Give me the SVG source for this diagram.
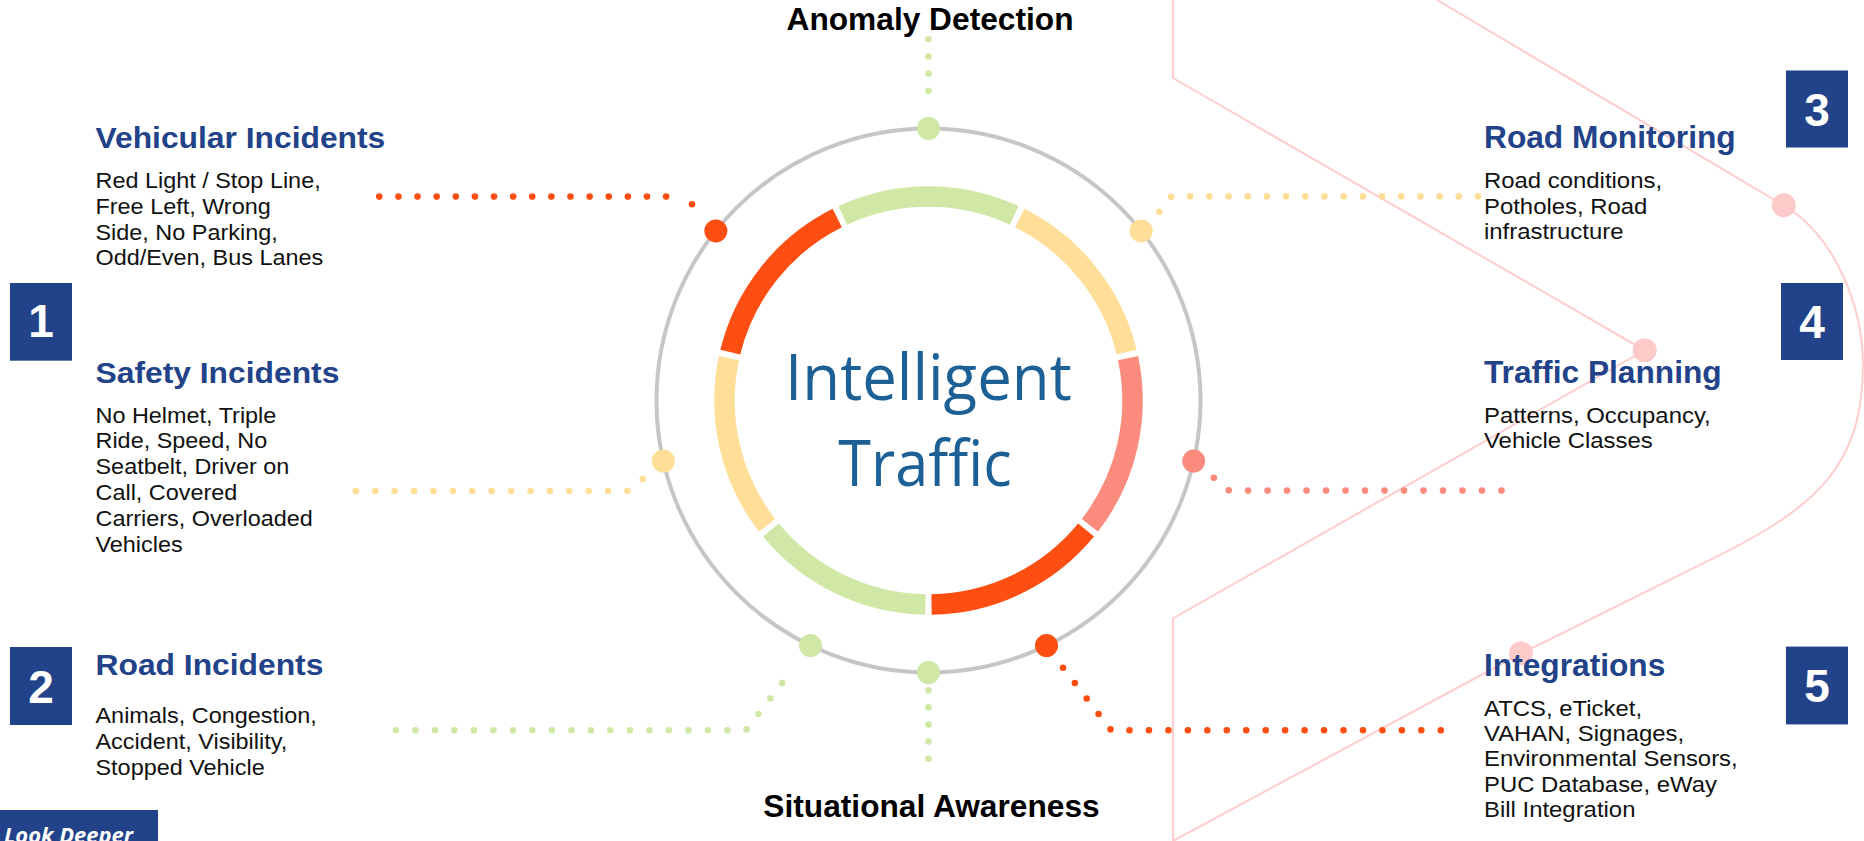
<svg xmlns="http://www.w3.org/2000/svg" width="1864" height="841" viewBox="0 0 1864 841">
<style>
.h{font-family:"Liberation Sans",Arial,sans-serif;font-weight:bold;fill:#22428A}
.b{font-family:"Liberation Sans",Arial,sans-serif;font-size:22.3px;fill:#111}
.t{font-family:"Liberation Sans",Arial,sans-serif;font-weight:bold;font-size:31.7px;fill:#000;text-anchor:middle}
.num{font-family:"Liberation Sans",Arial,sans-serif;font-weight:bold;font-size:46px;fill:#fff;text-anchor:middle}
.box{fill:#22428A}
.pink{fill:none;stroke:#FFCDCD;stroke-width:2}
.pdot{fill:#FDCACA}
.seg{fill:none;stroke-width:20.5}
.dl{fill:none;stroke-width:6.6;stroke-linecap:round}
.g{stroke:#D1E7A6}.y{stroke:#FFDE98}.s{stroke:#FA8B7D}.r{stroke:#FF4E12}
.gf{fill:#D1E7A6}.yf{fill:#FFDE98}.sf{fill:#FA8B7D}.rf{fill:#FF4E12}
</style>

<g id="decor">
<path class="pink" d="M1173 0 V78 L1644.7 350.3 L1173 618.5 V841"/>
<path class="pink" d="M1437 0 L1783.7 205.3 C1833.7 234.8 1863 305 1863 365 C1863 465 1816.7 506.7 1716.7 556.7 L1521 653.5 L1173 841"/>
<circle class="pdot" cx="1783.7" cy="205.3" r="12"/>
<circle class="pdot" cx="1644.7" cy="350.3" r="12"/>
<circle class="pdot" cx="1521" cy="653.3" r="12"/>
</g>

<g id="ring">
<circle cx="928.5" cy="400.5" r="272" fill="none" stroke="#C6C6C6" stroke-width="4"/>
<path class="seg g" d="M842.74 215.41 A204 204 0 0 1 1014.26 215.41"/>
<path class="seg y" d="M1019.75 218.04 A204 204 0 0 1 1126.69 352.15"/>
<path class="seg s" d="M1128.04 358.09 A204 204 0 0 1 1089.90 525.31"/>
<path class="seg r" d="M1086.09 530.04 A204 204 0 0 1 931.53 604.48"/>
<path class="seg g" d="M925.47 604.48 A204 204 0 0 1 770.91 530.04"/>
<path class="seg y" d="M767.10 525.31 A204 204 0 0 1 728.96 358.09"/>
<path class="seg r" d="M730.31 352.15 A204 204 0 0 1 837.25 218.04"/>
</g>

<g id="connectors">
<path class="dl g" stroke-dasharray="0 17.175" d="M928.5 39.3 V108"/>
<path class="dl g" stroke-dasharray="0 17.1" d="M928.5 690.3 V758.7"/>
<path class="dl r" stroke-dasharray="0 19.12" d="M379.3 196.6 H685.2"/>
<path class="dl r" stroke-dasharray="0 10.59" d="M692 204.3 L698.7 212.5"/>
<path class="dl y" stroke-dasharray="0 19.188" d="M1159.2 211.8 L1171.5 196.4 H1478"/>
<path class="dl y" stroke-dasharray="0 19.405" d="M355.8 491 H627.2 L642.8 479"/>
<path class="dl s" stroke-dasharray="0 19.49" d="M1213.8 477.7 L1229.2 490.6 H1501.5"/>
<path class="dl g" stroke-dasharray="0 19.5" d="M395.9 730.2 H745.9 L794.2 667.7"/>
<path class="dl r" stroke-dasharray="0 19.455" d="M1063 667.7 L1111.1 730.2 H1460.2"/>
</g>

<g id="ring-dots">
<circle class="gf" cx="928.5" cy="128.5" r="11.5"/>
<circle class="yf" cx="1141.15" cy="230.91" r="11.5"/>
<circle class="sf" cx="1193.68" cy="461.02" r="11.5"/>
<circle class="rf" cx="1046.52" cy="645.57" r="11.5"/>
<circle class="gf" cx="928.5" cy="672.5" r="11.5"/>
<circle class="gf" cx="810.48" cy="645.57" r="11.5"/>
<circle class="yf" cx="663.32" cy="461.02" r="11.5"/>
<circle class="rf" cx="715.85" cy="230.91" r="11.5"/>
</g>

<g id="node-center">
<text font-family="'Open Sans','Noto Sans',sans-serif" font-size="64" fill="#1D6096" x="785" y="400" textLength="286.7" lengthAdjust="spacingAndGlyphs">Intelligent</text>
<text font-family="'Open Sans','Noto Sans',sans-serif" font-size="64" fill="#1D6096" x="838.3" y="485.7" textLength="173.4" lengthAdjust="spacingAndGlyphs">Traffic</text>
</g>

<g id="node-anomaly"><text class="t" x="930" y="30">Anomaly Detection</text></g>
<g id="node-situational"><text class="t" x="931.5" y="816.7">Situational Awareness</text></g>

<g id="box-1"><rect class="box" x="10" y="283" width="62" height="77.7"/><text class="num" x="41" y="337.3">1</text></g>
<g id="box-2"><rect class="box" x="10" y="647" width="62" height="78"/><text class="num" x="41" y="702.5">2</text></g>
<g id="box-3"><rect class="box" x="1786" y="70.5" width="62" height="77"/><text class="num" x="1817" y="125.5">3</text></g>
<g id="box-4"><rect class="box" x="1781" y="283" width="62" height="77"/><text class="num" x="1812" y="338">4</text></g>
<g id="box-5"><rect class="box" x="1786" y="646.6" width="62" height="77.8"/><text class="num" x="1817" y="702">5</text></g>

<g id="node-vehicular" transform="translate(95.5 0) scale(1.05 1)">
<text class="h" font-size="30.3" x="0" y="148.3">Vehicular Incidents</text>
<text class="b"><tspan x="0" y="188.3">Red Light / Stop Line,</tspan><tspan x="0" y="214">Free Left, Wrong</tspan><tspan x="0" y="239.7">Side, No Parking,</tspan><tspan x="0" y="265.3">Odd/Even, Bus Lanes</tspan></text>
</g>

<g id="node-safety" transform="translate(95.5 0) scale(1.05 1)">
<text class="h" font-size="30.3" x="0" y="383.3">Safety Incidents</text>
<text class="b"><tspan x="0" y="422.7">No Helmet, Triple</tspan><tspan x="0" y="448.3">Ride, Speed, No</tspan><tspan x="0" y="474.3">Seatbelt, Driver on</tspan><tspan x="0" y="500">Call, Covered</tspan><tspan x="0" y="526">Carriers, Overloaded</tspan><tspan x="0" y="551.7">Vehicles</tspan></text>
</g>

<g id="node-road-incidents" transform="translate(95.5 0) scale(1.05 1)">
<text class="h" font-size="30.3" x="0" y="675">Road Incidents</text>
<text class="b"><tspan x="0" y="723.3">Animals, Congestion,</tspan><tspan x="0" y="749">Accident, Visibility,</tspan><tspan x="0" y="775">Stopped Vehicle</tspan></text>
</g>

<g id="node-road-monitoring">
<text class="h" font-size="31.7" x="1484" y="148.3">Road Monitoring</text>
<text class="b" transform="translate(1484 0) scale(1.072 1)"><tspan x="0" y="188.3">Road conditions,</tspan><tspan x="0" y="214">Potholes, Road</tspan><tspan x="0" y="239.5">infrastructure</tspan></text>
</g>

<g id="node-traffic-planning">
<text class="h" font-size="31.7" x="1484" y="383">Traffic Planning</text>
<text class="b" transform="translate(1484 0) scale(1.072 1)"><tspan x="0" y="422.7">Patterns, Occupancy,</tspan><tspan x="0" y="448.3">Vehicle Classes</tspan></text>
</g>

<g id="node-integrations">
<text class="h" font-size="31.7" x="1484" y="675.7">Integrations</text>
<text class="b" transform="translate(1484 0) scale(1.072 1)"><tspan x="0" y="715.7">ATCS, eTicket,</tspan><tspan x="0" y="740.9">VAHAN, Signages,</tspan><tspan x="0" y="766.5">Environmental Sensors,</tspan><tspan x="0" y="792.2">PUC Database, eWay</tspan><tspan x="0" y="817.5">Bill Integration</tspan></text>
</g>

<g id="look-deeper">
<rect class="box" x="0" y="810" width="158" height="40"/>
<text font-family="'Open Sans','Noto Sans',sans-serif" font-weight="bold" font-style="italic" font-size="21" fill="#fff" x="4" y="843" textLength="129" lengthAdjust="spacingAndGlyphs">Look Deeper</text>
</g>
</svg>
